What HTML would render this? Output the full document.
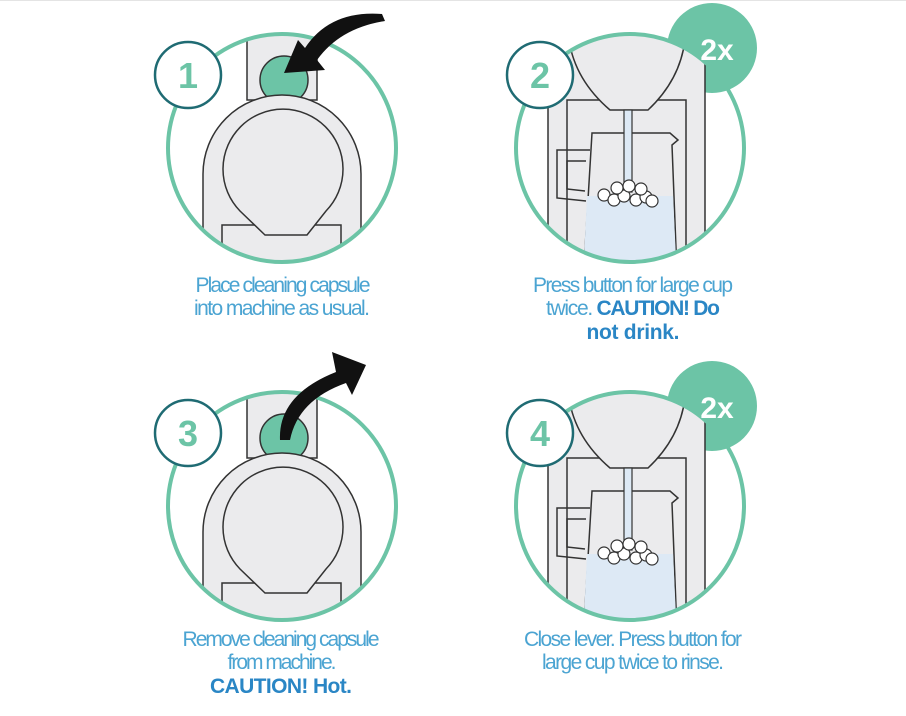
<!DOCTYPE html>
<html><head><meta charset="utf-8"><style>
html,body{margin:0;padding:0;background:#fff;}
svg{display:block;}
text{font-family:"Liberation Sans",sans-serif;}
.t{fill:#4ba4d2;font-size:21px;}
.b{fill:#2a86c5;font-weight:bold;}
</style></head><body>
<svg width="906" height="716" viewBox="0 0 906 716" xmlns="http://www.w3.org/2000/svg">
<defs>
<clipPath id="c1"><circle cx="282" cy="148" r="114"/></clipPath>
<clipPath id="c2"><circle cx="630" cy="148" r="114"/></clipPath>
<g id="p1">
 <g clip-path="url(#c1)">
  <rect x="247" y="0" width="70" height="100" fill="#ebebed" stroke="#333" stroke-width="1.5"/>
  <circle cx="284" cy="80" r="24" fill="#6cc4a6" stroke="#333" stroke-width="1.5"/>
  <path d="M203,290 V174 A79,79 0 0 1 361,174 V290 Z" fill="#ebebed" stroke="#333" stroke-width="1.5"/>
  <rect x="222" y="225" width="119" height="70" fill="#ebebed" stroke="#333" stroke-width="1.5"/>
  <path d="M265,235 L240,211 A60,60 0 1 1 326,211 L307,235 Z" fill="#ebebed" stroke="#333" stroke-width="1.5"/>
 </g>
 <circle cx="282" cy="148" r="114" fill="none" stroke="#6cc4a6" stroke-width="4"/>
</g>
<g id="p2">
 <circle cx="712" cy="48" r="45" fill="#6cc4a6"/>
 <g clip-path="url(#c2)">
  <rect x="548" y="0" width="157" height="300" fill="#ebebed"/>
  <line x1="548" y1="0" x2="548" y2="300" stroke="#333" stroke-width="1.5"/>
  <line x1="705" y1="0" x2="705" y2="300" stroke="#333" stroke-width="1.5"/>
  <path d="M567,300 V100 H686 V300" fill="none" stroke="#333" stroke-width="1.5"/>
  <path d="M569,40 Q575,80 610,110 H648 Q680,80 685,40" fill="#ebebed" stroke="#333" stroke-width="1.5"/>
  <path d="M590,150 H557 V198 L586,201 M586,161 H567 V189 L585,191" fill="none" stroke="#333" stroke-width="1.5"/>
  <path d="M592,133 H670 L678,140 L672,145 L678,300 H582 Z" fill="#ebebed" stroke="#333" stroke-width="1.5"/>
  <path d="M587,196 H673 L678,300 H582 Z" fill="#dde9f5"/>
  <rect x="624" y="110" width="8" height="82" fill="#dde9f5" stroke="#333" stroke-width="1.2"/>
  <g fill="#fff" stroke="#333" stroke-width="1.2">
   <circle cx="604" cy="195" r="6"/><circle cx="614" cy="200" r="6"/><circle cx="624" cy="196" r="6"/>
   <circle cx="636" cy="200" r="6"/><circle cx="646" cy="197" r="6"/><circle cx="652" cy="201" r="6"/>
   <circle cx="617" cy="188" r="6"/><circle cx="629" cy="186" r="6"/><circle cx="641" cy="189" r="6"/>
  </g>
 </g>
 <circle cx="630" cy="148" r="114" fill="none" stroke="#6cc4a6" stroke-width="4"/>
 <text x="717" y="60" fill="#fff" font-size="30" font-weight="bold" text-anchor="middle">2x</text>
</g>
</defs>
<line x1="0" y1="0.5" x2="906" y2="0.5" stroke="#e4e4e4"/>
<use href="#p1"/>
<use href="#p1" transform="translate(0,358)"/>
<use href="#p2"/>
<use href="#p2" transform="translate(0,358)"/>
<!-- badges -->
<g font-size="36" font-weight="bold" fill="#6cc4a6" text-anchor="middle">
 <circle cx="188" cy="75" r="33" fill="#fff" stroke="#1f6b73" stroke-width="2.5"/>
 <text x="188" y="88">1</text>
 <circle cx="540" cy="75" r="33" fill="#fff" stroke="#1f6b73" stroke-width="2.5"/>
 <text x="540" y="88">2</text>
 <circle cx="188" cy="433" r="33" fill="#fff" stroke="#1f6b73" stroke-width="2.5"/>
 <text x="188" y="446">3</text>
 <circle cx="540" cy="433" r="33" fill="#fff" stroke="#1f6b73" stroke-width="2.5"/>
 <text x="540" y="446">4</text>
</g>
<!-- arrows -->
<path d="M298,40 L284,73 L325,70 L317,60 Q340,28 385,21 L382,14 Q330,10 305,48 Z" fill="#111"/>
<path d="M280,440 Q278,395 336,372 L332,352 L366,365 L352,395 L346,383 Q298,400 290,440 Z" fill="#111"/>
<!-- texts -->
<text class="t" text-anchor="middle"><tspan x="283" y="292" textLength="175">Place cleaning capsule</tspan></text>
<text class="t" text-anchor="middle"><tspan x="282" y="315" textLength="176">into machine as usual.</tspan></text>
<text class="t" text-anchor="middle"><tspan x="633" y="292" textLength="200">Press button for large cup</tspan></text>
<text class="t" x="546" y="315" textLength="174">twice. <tspan class="b">CAUTION! Do</tspan></text>
<text class="t b" text-anchor="middle"><tspan x="633" y="339" textLength="93">not drink.</tspan></text>
<text class="t" text-anchor="middle"><tspan x="281" y="646" textLength="197">Remove cleaning capsule</tspan></text>
<text class="t" text-anchor="middle"><tspan x="282" y="669" textLength="109">from machine.</tspan></text>
<text class="t b" text-anchor="middle"><tspan x="281" y="693" textLength="142">CAUTION! Hot.</tspan></text>
<text class="t" text-anchor="middle"><tspan x="633" y="646" textLength="218">Close lever. Press button for</tspan></text>
<text class="t" text-anchor="middle"><tspan x="633" y="669" textLength="182">large cup twice to rinse.</tspan></text>
</svg>
</body></html>
